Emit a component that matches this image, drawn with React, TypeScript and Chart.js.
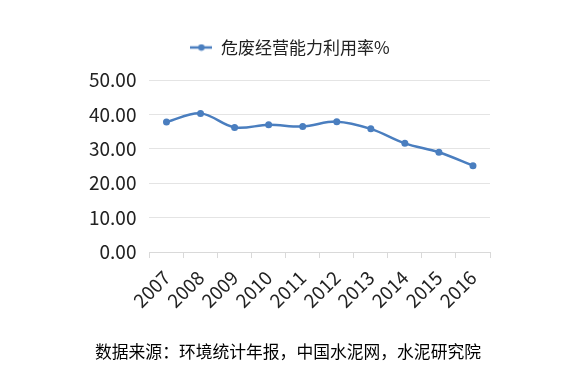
import React, { useEffect, useRef } from "react";
import { Chart, registerables } from "chart.js";

Chart.register(...registerables);

const years = ["2007", "2008", "2009", "2010", "2011", "2012", "2013", "2014", "2015", "2016"];
const utilization = [37.8, 40.3, 36.2, 37.0, 36.5, 37.9, 35.8, 31.6, 29.0, 25.1];
const seriesName = "危废经营能力利用率%";
const sourceNote = "数据来源：环境统计年报，中国水泥网，水泥研究院";
const yMin = 0;
const yMax = 50;
const yStep = 10;

const LINE = "#4a7ebf";
const FONT = "'Noto Sans CJK SC', 'Open Sans', sans-serif";

function legendIcon(): HTMLCanvasElement {
  const c = document.createElement("canvas");
  c.width = 22;
  c.height = 8;
  const ctx = c.getContext("2d")!;
  ctx.strokeStyle = LINE;
  ctx.lineWidth = 2.5;
  ctx.beginPath();
  ctx.moveTo(0, 4);
  ctx.lineTo(22, 4);
  ctx.stroke();
  ctx.fillStyle = LINE;
  ctx.beginPath();
  ctx.arc(11, 4, 3.2, 0, Math.PI * 2);
  ctx.fill();
  return c;
}

const legendGap = {
  id: "legendGap",
  beforeLayout(chart: any) {
    const lg = chart.legend;
    if (lg && !lg.__patched) {
      const orig = lg.fit;
      lg.fit = function () {
        orig.call(this);
        this.height += 14;
      };
      lg.__patched = true;
    }
  },
  afterLayout(chart: any) {
    const lg = chart.legend;
    if (lg) {
      lg.left += 7;
      lg.right += 7;
    }
  },
};

export default function App() {
  const ref = useRef<HTMLCanvasElement>(null);
  useEffect(() => {
    const icon = legendIcon();
    const chart = new Chart(ref.current!, {
      type: "line",
      data: {
        labels: years,
        datasets: [
          {
            label: seriesName,
            data: utilization,
            borderColor: LINE,
            backgroundColor: LINE,
            borderWidth: 2.5,
            pointRadius: 3.5,
            pointBackgroundColor: LINE,
            pointBorderWidth: 0,
            tension: 0.35,
            pointStyle: "circle",
          },
        ],
      },
      options: {
        animation: false,
        responsive: false,
        layout: { padding: { left: 76, right: 90, top: 21, bottom: 56 } },
        plugins: {
          legend: {
            position: "top",
            labels: {
              usePointStyle: true,
              pointStyleWidth: 22,
              color: "#222",
              font: { family: FONT, size: 17 },
              padding: 18,
              generateLabels: () => [
                {
                  text: seriesName,
                  pointStyle: icon,
                  fillStyle: LINE,
                  strokeStyle: LINE,
                  lineWidth: 0,
                  hidden: false,
                  datasetIndex: 0,
                  fontColor: "#222",
                } as any,
              ],
            },
          },
          tooltip: { enabled: false },
        },
        scales: {
          x: {
            offset: true,
            grid: {
              offset: true,
              drawOnChartArea: false,
              drawTicks: true,
              tickLength: 6,
              color: "#d9d9d9",
            },
            border: { color: "#d9d9d9" },
            ticks: {
              color: "#222",
              font: { family: FONT, size: 19 },
              minRotation: 45,
              maxRotation: 45,
              padding: 8,
              autoSkip: false,
            },
          },
          y: {
            min: yMin,
            max: yMax,
            grid: { color: "#e4e4e4", drawTicks: false },
            border: { display: false },
            ticks: {
              stepSize: yStep,
              color: "#222",
              font: { family: FONT, size: 19 },
              padding: 13,
              callback: (v: any) => Number(v).toFixed(2),
            },
          },
        },
      },
      plugins: [legendGap],
    });
    return () => chart.destroy();
  }, []);
  return (
    <div style={{ position: "absolute", left: 0, top: 0, width: 580, height: 376, background: "#fff" }}>
      <canvas ref={ref} width={580} height={376} style={{ display: "block" }} />
      <div
        style={{
          position: "absolute",
          left: 95,
          top: 339,
          fontFamily: "'Noto Sans CJK SC', sans-serif",
          fontSize: 16.8,
          color: "#000",
          whiteSpace: "nowrap",
        }}
      >
        {sourceNote}
      </div>
    </div>
  );
}
